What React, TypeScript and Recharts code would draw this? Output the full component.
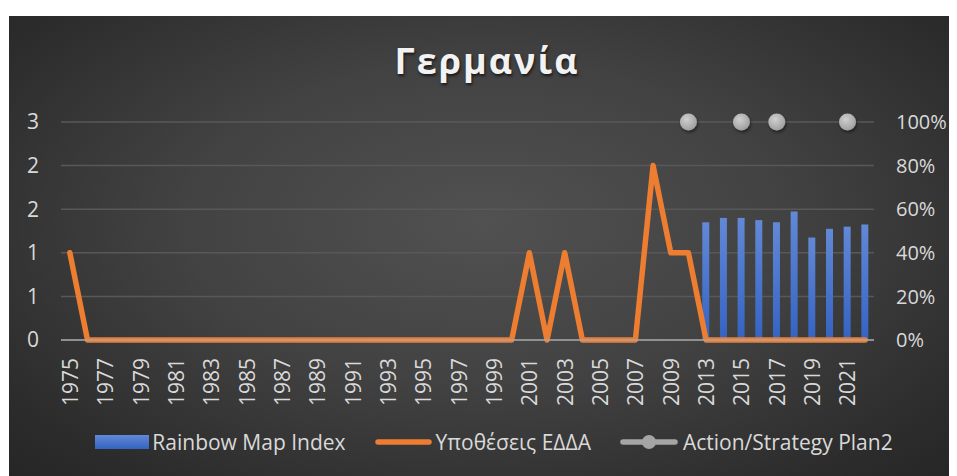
import { ComposedChart, Bar, Line, XAxis, YAxis, CartesianGrid, Legend } from "recharts";

const FONT = "'Open Sans', 'Noto Sans', sans-serif";
const TEXT = "#d9d9d9";

const years = [
  "1975", "1976", "1977", "1978", "1979", "1980", "1981", "1982", "1983", "1984",
  "1985", "1986", "1987", "1988", "1989", "1990", "1991", "1992", "1993", "1994",
  "1995", "1996", "1997", "1998", "1999", "2000", "2001", "2002", "2003", "2004",
  "2005", "2006", "2007", "2008", "2009", "2010", "2013", "2014", "2015", "2016",
  "2017", "2018", "2019", "2020", "2021", "2022",
];

// Rainbow Map Index (right axis, share)
const rainbowIndex = [
  null, null, null, null, null, null, null, null, null, null,
  null, null, null, null, null, null, null, null, null, null,
  null, null, null, null, null, null, null, null, null, null,
  null, null, null, null, null, null, 0.54, 0.56, 0.56, 0.55,
  0.54, 0.59, 0.47, 0.51, 0.52, 0.53,
];

// Υποθέσεις ΕΔΔΑ (left axis)
const echrCases = [
  1, 0, 0, 0, 0, 0, 0, 0, 0, 0,
  0, 0, 0, 0, 0, 0, 0, 0, 0, 0,
  0, 0, 0, 0, 0, 0, 1, 0, 1, 0,
  0, 0, 0, 2, 1, 1, 0, 0, 0, 0,
  0, 0, 0, 0, 0, 0,
];

// Action/Strategy Plan2 (right axis)
const actionPlan = [
  null, null, null, null, null, null, null, null, null, null,
  null, null, null, null, null, null, null, null, null, null,
  null, null, null, null, null, null, null, null, null, null,
  null, null, null, null, null, 1, null, null, 1, null,
  1, null, null, null, 1, null,
];

const leftTicks = [0, 0.5, 1, 1.5, 2, 2.5];
const rightTicks = [0, 0.2, 0.4, 0.6, 0.8, 1];

const data = years.map((year, i) => ({
  year,
  rainbow: rainbowIndex[i],
  cases: echrCases[i],
  plan: actionPlan[i],
}));

const YearTick = ({ x, y, payload }: any) => (
  <text
    x={x}
    y={y}
    transform={`rotate(-90, ${x}, ${y})`}
    textAnchor="end"
    dominantBaseline="central"
    fill={TEXT}
    fontSize={21}
    fontFamily={FONT}
  >
    {payload.value}
  </text>
);

const PlanDot = (props: any) => {
  const { cx, cy, value } = props;
  if (value == null || cx == null || cy == null) return null;
  return (
    <circle cx={cx} cy={cy} r={8.5} fill="url(#planDot)" filter="url(#dotShadow)" />
  );
};

const LegendContent = () => (
  <div
    style={{
      display: "flex",
      justifyContent: "center",
      alignItems: "center",
      height: 40,
      paddingLeft: 22,
      fontFamily: FONT,
      fontSize: 21,
      color: TEXT,
      whiteSpace: "nowrap",
    }}
  >
    <svg width={54} height={14} style={{ marginRight: 3 }}>
      <rect width={54} height={14} fill="url(#barFill)" />
    </svg>
    <span>Rainbow Map Index</span>
    <svg width={57} height={12} style={{ marginLeft: 29, marginRight: 4 }}>
      <line x1={3} y1={6} x2={54} y2={6} stroke="#ed7d31" strokeWidth={5.5} strokeLinecap="round" />
    </svg>
    <span>Υποθέσεις ΕΔΔΑ</span>
    <svg width={58} height={18} style={{ marginLeft: 29, marginRight: 5 }}>
      <line x1={3} y1={9} x2={55} y2={9} stroke="#a5a5a5" strokeWidth={5.5} strokeLinecap="round" />
      <circle cx={29} cy={9} r={7} fill="#a5a5a5" />
    </svg>
    <span>Action/Strategy Plan2</span>
  </div>
);

export default function App() {
  return (
    <div
      style={{
        position: "relative",
        width: 948,
        height: 460,
        marginLeft: 1,
        marginTop: 8,
        background:
          "radial-gradient(ellipse at 50% 45%, #515151 0%, #424242 45%, #2c2c2c 85%, #262626 100%)",
        overflow: "hidden",
      }}
    >
      <div
        style={{
          position: "absolute",
          left: 0,
          top: 22,
          width: 956,
          textAlign: "center",
          fontFamily: FONT,
          fontWeight: 700,
          fontSize: 36,
          letterSpacing: 2,
          color: "#f2f2f2",
          textShadow: "1px 2px 3px rgba(0,0,0,0.65)",
          lineHeight: "46px",
        }}
      >
        Γερμανία
      </div>
      <ComposedChart
        width={948}
        height={460}
        data={data}
        margin={{ top: 106, right: 0, bottom: 14, left: 0 }}
      >
        <defs>
          <linearGradient id="barFill" x1="0" y1="0" x2="0" y2="1">
            <stop offset="0%" stopColor="#6289d6" />
            <stop offset="100%" stopColor="#3463c3" />
          </linearGradient>
          <radialGradient id="planDot" cx="40%" cy="35%" r="70%">
            <stop offset="0%" stopColor="#cfcfcf" />
            <stop offset="100%" stopColor="#9c9c9c" />
          </radialGradient>
          <filter id="dotShadow" x="-50%" y="-50%" width="200%" height="200%">
            <feDropShadow dx="1" dy="2" stdDeviation="1.5" floodColor="#000" floodOpacity="0.5" />
          </filter>
        </defs>
        <CartesianGrid yAxisId="left" vertical={false} stroke="#585858" strokeWidth={1.5} />
        <XAxis
          dataKey="year"
          interval={1}
          height={82}
          tickLine={false}
          tickMargin={12}
          axisLine={{ stroke: "#a6a6a6", strokeWidth: 1.5 }}
          tick={<YearTick />}
        />
        <YAxis
          yAxisId="left"
          orientation="left"
          width={52}
          domain={[0, 2.5]}
          ticks={leftTicks}
          tickFormatter={(v: number) => String(Math.round(v))}
          axisLine={false}
          tickLine={false}
          tickMargin={16}
          tick={{ fill: TEXT, fontSize: 21, fontFamily: FONT }}
        />
        <YAxis
          yAxisId="right"
          orientation="right"
          width={83}
          domain={[0, 1]}
          ticks={rightTicks}
          tickFormatter={(v: number) => `${Math.round(v * 100)}%`}
          axisLine={false}
          tickLine={false}
          tickMargin={16}
          tick={{ fill: TEXT, fontSize: 20, fontFamily: FONT }}
        />
        <Bar
          yAxisId="right"
          dataKey="rainbow"
          name="Rainbow Map Index"
          fill="url(#barFill)"
          barSize={7}
          isAnimationActive={false}
        />
        <Line
          yAxisId="left"
          type="linear"
          dataKey="cases"
          name="Υποθέσεις ΕΔΔΑ"
          stroke="#ed7d31"
          strokeWidth={5.5}
          strokeLinecap="round"
          strokeLinejoin="round"
          dot={false}
          activeDot={false}
          isAnimationActive={false}
        />
        <Line
          yAxisId="right"
          type="linear"
          dataKey="plan"
          name="Action/Strategy Plan2"
          stroke="#a5a5a5"
          strokeWidth={5}
          connectNulls={false}
          dot={<PlanDot />}
          activeDot={false}
          isAnimationActive={false}
        />
        <Legend
          verticalAlign="bottom"
          content={<LegendContent />}
          wrapperStyle={{ height: 40 }}
        />
      </ComposedChart>
    </div>
  );
}
